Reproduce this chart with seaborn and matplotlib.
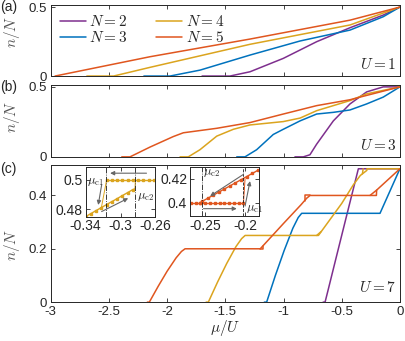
"""
Filling n/N vs chemical potential mu/U for N = 2..5 at U = 1, 3, 7,
with two insets zooming on the hysteresis loops at U = 7.
"""

import numpy as np
import pandas as pd
import matplotlib
matplotlib.use('Agg')
import matplotlib.pyplot as plt
import seaborn as sns

# ============================================
# Data
# ============================================
N_VALUES = [2, 3, 4, 5]
COLORS = ['#7E2F8E', '#0072BD', '#DBA41E', '#E0561F']

XTICKS = [-3, -2.5, -2, -1.5, -1, -0.5, 0]
XTICK_LABELS = ['-3', '-2.5', '-2', '-1.5', '-1', '-0.5', '0']

# --- U = 1 ---
U1_N2_mu = [-1.70, -1.46, -1.288, -1.002, -0.715, -0.429, -0.143, 0.0]
U1_N2_n = [0.0, 0.0, 0.031, 0.128, 0.249, 0.350, 0.442, 0.5]
U1_N3_mu = [-2.20, -1.975, -1.717, -1.288, -0.858, -0.429, -0.143, 0.0]
U1_N3_n = [0.0, 0.0, 0.043, 0.152, 0.254, 0.333, 0.430, 0.5]
U1_N4_mu = [-2.69, -2.46, -2.35, -2.147, -1.288, -0.429, 0.0]
U1_N4_n = [0.0, 0.0, 0.022, 0.063, 0.230, 0.370, 0.5]
U1_N5_mu = [-2.963, -2.147, -1.288, -0.429, 0.0]
U1_N5_n = [0.0, 0.140, 0.268, 0.405, 0.5]

# --- U = 3 ---
U3_N2_mu = [-0.902, -0.830, -0.773, -0.716, -0.572, -0.429, -0.286, -0.143, 0.0]
U3_N2_n = [0.0, 0.0, 0.015, 0.090, 0.257, 0.378, 0.464, 0.5, 0.5]
U3_N3_mu = [-1.402, -1.331, -1.231, -1.088, -1.002, -0.858, -0.715, -0.572,
            -0.429, -0.286, -0.143, 0.0]
U3_N3_n = [0.0, 0.0, 0.051, 0.160, 0.197, 0.257, 0.306, 0.318,
           0.335, 0.378, 0.427, 0.5]
U3_N4_mu = [-1.889, -1.818, -1.718, -1.574, -1.431, -1.288, -1.002, -0.858,
            -0.715, -0.429, -0.286, 0.0]
U3_N4_n = [0.0, 0.0, 0.051, 0.148, 0.197, 0.228, 0.252, 0.277,
           0.330, 0.402, 0.450, 0.5]
U3_N5_mu = [-2.390, -2.319, -2.147, -1.947, -1.861, -1.574, -1.288, -1.002,
            -0.715, -0.429, -0.286, 0.0]
U3_N5_n = [0.0, 0.0, 0.070, 0.145, 0.172, 0.204, 0.245, 0.306,
           0.366, 0.408, 0.439, 0.5]

# --- U = 7 (main sweep + short hysteresis branches) ---
U7_N2_mu = [-0.66, -0.643, -0.62, -0.55, -0.45, -0.357, 0.0]
U7_N2_n = [0.0, 0.0, 0.04, 0.163, 0.338, 0.5, 0.5]
U7_N3_mu = [-1.165, -1.145, -1.07, -0.995, -0.92, -0.874, -0.844, -0.171, 0.0]
U7_N3_n = [0.0, 0.0, 0.10, 0.193, 0.277, 0.317, 0.333, 0.333, 0.5]
U7_N4_mu = [-1.665, -1.646, -1.567, -1.488, -1.409, -1.36, -1.33, -0.70,
            -0.5, -0.4, -0.34, -0.284, -0.283, 0.0]
U7_N4_n = [0.0, 0.0, 0.075, 0.145, 0.208, 0.238, 0.25, 0.25,
           0.37, 0.44, 0.475, 0.494, 0.5, 0.5]
U7_N4_hyst_mu = [[-0.316, -0.322], [-0.676, -0.715]]
U7_N4_hyst_n = [[0.5, 0.481], [0.265, 0.25]]
U7_N5_mu = [-2.17, -2.153, -2.076, -2.0, -1.923, -1.877, -1.846, -1.20,
            -1.0, -0.85, -0.80, -0.772, -0.202, -0.2, 0.0]
U7_N5_n = [0.0, 0.0, 0.06, 0.116, 0.166, 0.19, 0.2, 0.2,
           0.295, 0.365, 0.39, 0.4, 0.4, 0.42, 0.5]
U7_N5_hyst_mu = [[-0.2, -0.254, -0.256], [-0.772, -0.815, -0.815],
                 [-1.20, -1.175, -1.175]]
U7_N5_hyst_n = [[0.42, 0.401, 0.4], [0.4, 0.4, 0.379], [0.2, 0.2, 0.212]]

# --- inset 1 : N = 4 near n/N = 0.5 ---
INS4_TOP_mu = [-0.256, -0.262, -0.268, -0.274, -0.280, -0.286, -0.292,
               -0.298, -0.304, -0.310, -0.316]
INS4_TOP_n = [0.5] * 11
INS4_JUMP_mu = [-0.316, -0.322]
INS4_JUMP_n = [0.5, 0.4811]
INS4_LOW_mu = [-0.346, -0.340, -0.334, -0.328, -0.322, -0.316, -0.310,
               -0.304, -0.298, -0.292, -0.286]
INS4_LOW_n = [0.4730, 0.4750, 0.4770, 0.4791, 0.4811, 0.4832, 0.4852,
              0.4872, 0.4893, 0.4913, 0.4934]
INS4_LINK_mu = [-0.286, -0.2835, -0.283]
INS4_LINK_n = [0.4934, 0.4942, 0.5]
INS4_MUC1, INS4_MUC2 = -0.317, -0.283

# --- inset 2 : N = 5 near n/N = 0.4 ---
INS5_LOW_mu = [-0.274, -0.268, -0.262, -0.256, -0.250, -0.244, -0.238,
               -0.232, -0.226, -0.220, -0.214, -0.208, -0.202]
INS5_LOW_n = [0.4] * 13
INS5_JUMP_mu = [-0.202, -0.2]
INS5_JUMP_n = [0.4, 0.42]
INS5_UP_mu = [-0.256, -0.254, -0.247, -0.240, -0.233, -0.226, -0.219,
              -0.212, -0.205, -0.198, -0.191, -0.184, -0.177]
INS5_UP_n = [0.4, 0.401, 0.4036, 0.4062, 0.4088, 0.4114, 0.4140,
             0.4166, 0.4192, 0.4218, 0.4244, 0.4270, 0.4296]
INS5_MUC1, INS5_MUC2 = -0.2025, -0.254


def label(N):
    return f'$N={N}$'


def branch_frame(branches):
    frames = []
    for k, (N, mu, n) in enumerate(branches):
        frames.append(pd.DataFrame({'mu': mu, 'n': n, 'N': label(N), 'seg': k}))
    return pd.concat(frames, ignore_index=True)


def style_axes(ax):
    ax.tick_params(direction='in', top=True, right=True, length=3, width=0.6,
                   labelsize=9.5, pad=3, colors='#262626')
    for s in ax.spines.values():
        s.set_color('#262626')
        s.set_linewidth(0.7)


# ============================================
# Figure
# ============================================
sns.set_theme(style='ticks')
plt.rcParams['font.family'] = ['Liberation Sans', 'DejaVu Sans']
plt.rcParams['mathtext.fontset'] = 'cm'
plt.rcParams['axes.unicode_minus'] = False

palette = dict(zip([label(N) for N in N_VALUES], COLORS))
hue_order = [label(N) for N in N_VALUES]

fig = plt.figure(figsize=(4.06, 3.41), dpi=100)
ax_a = fig.add_axes([0.125, 0.777, 0.860, 0.208])
ax_b = fig.add_axes([0.125, 0.540, 0.860, 0.211])
ax_c = fig.add_axes([0.125, 0.114, 0.860, 0.402])

panels = [
    (ax_a, branch_frame([(2, U1_N2_mu, U1_N2_n), (3, U1_N3_mu, U1_N3_n),
                         (4, U1_N4_mu, U1_N4_n), (5, U1_N5_mu, U1_N5_n)]),
     '$U=1$', 0.62),
    (ax_b, branch_frame([(2, U3_N2_mu, U3_N2_n), (3, U3_N3_mu, U3_N3_n),
                         (4, U3_N4_mu, U3_N4_n), (5, U3_N5_mu, U3_N5_n)]),
     '$U=3$', 0.55),
    (ax_c, branch_frame([(2, U7_N2_mu, U7_N2_n), (3, U7_N3_mu, U7_N3_n),
                         (4, U7_N4_mu, U7_N4_n),
                         *[(4, m, n) for m, n in zip(U7_N4_hyst_mu, U7_N4_hyst_n)],
                         (5, U7_N5_mu, U7_N5_n),
                         *[(5, m, n) for m, n in zip(U7_N5_hyst_mu, U7_N5_hyst_n)]]),
     '$U=7$', 0.42),
]

for ax, df, utext, ylab_y in panels:
    sns.lineplot(data=df, x='mu', y='n', hue='N', hue_order=hue_order,
                 palette=palette, units='seg', estimator=None, sort=False,
                 lw=1.1, ax=ax, legend=(ax is ax_a))
    ax.set_xlim(-3, 0)
    ax.set_ylim(0, 0.514)
    ax.set_xticks(XTICKS)
    ax.set_xticklabels(XTICK_LABELS)
    ax.set_xlabel('')
    ax.set_ylabel('$n/N$', fontsize=11, color='#555555')
    ax.yaxis.set_label_coords(-0.082, ylab_y)
    ax.text(0.99, 0.05, utext, transform=ax.transAxes, ha='right', va='bottom',
            fontsize=11, color='#262626')
    style_axes(ax)

for ax in (ax_a, ax_b):
    ax.set_yticks([0, 0.5])
    ax.set_yticklabels(['0', '0.5'])
    ax.tick_params(labelbottom=False)
ax_c.set_yticks([0, 0.2, 0.4])
ax_c.set_yticklabels(['0', '0.2', '0.4'])
ax_c.set_xlabel('$\\mu/U$', fontsize=11, labelpad=0, color='#262626')

sns.move_legend(ax_a, 'upper left', ncol=2, frameon=False, title=None,
                fontsize=11, handlelength=1.7, handletextpad=0.2,
                columnspacing=1.9, labelspacing=0.05, borderaxespad=0.2)

for txt, ypix in [('(a)', 7), ('(b)', 87), ('(c)', 169)]:
    fig.text(0.0, 1 - ypix / 341, txt, fontsize=10, ha='left', va='center',
             color='#262626')

# ============================================
# Insets
# ============================================
arrow_kw = dict(arrowstyle='-|>', color='#666666', lw=0.8, mutation_scale=6,
                shrinkA=0, shrinkB=0)
gold, orange = COLORS[2], COLORS[3]

ins1 = fig.add_axes([0.211, 0.365, 0.172, 0.146])
ins1.plot(INS4_TOP_mu, INS4_TOP_n, color=gold, lw=1.0, marker='s', ms=2)
ins1.plot(INS4_JUMP_mu, INS4_JUMP_n, color=gold, lw=0.7)
ins1.plot(INS4_LOW_mu, INS4_LOW_n, color=gold, lw=1.0, marker='s', ms=2)
ins1.plot(INS4_LINK_mu, INS4_LINK_n, color=gold, lw=0.7)
ins1.axvline(INS4_MUC1, color='k', lw=0.6, ls='-.')
ins1.axvline(INS4_MUC2, color='k', lw=0.6, ls='-.')
ins1.annotate('', xy=(-0.312, 0.5046), xytext=(-0.2703, 0.5046), arrowprops=arrow_kw)
ins1.annotate('', xy=(-0.3256, 0.4829), xytext=(-0.3217, 0.4966), arrowprops=arrow_kw)
ins1.annotate('', xy=(-0.2913, 0.4875), xytext=(-0.3217, 0.4784), arrowprops=arrow_kw)
ins1.text(-0.3185, 0.4985, '$\\mu_{\\mathrm{c1}}$', fontsize=9, ha='right', va='center')
ins1.text(-0.2815, 0.4885, '$\\mu_{\\mathrm{c2}}$', fontsize=9, ha='left', va='center')
ins1.set_xlim(-0.34, -0.26)
ins1.set_ylim(0.475, 0.509)
ins1.set_xticks([-0.34, -0.3, -0.26])
ins1.set_xticklabels(['-0.34', '-0.3', '-0.26'])
ins1.set_yticks([0.48, 0.5])
ins1.set_yticklabels(['0.48', '0.5'])

ins2 = fig.add_axes([0.468, 0.367, 0.170, 0.144])
ins2.plot(INS5_LOW_mu, INS5_LOW_n, color=orange, lw=1.0, marker='s', ms=2)
ins2.plot(INS5_JUMP_mu, INS5_JUMP_n, color=orange, lw=0.7)
ins2.plot(INS5_UP_mu, INS5_UP_n, color=orange, lw=1.0, marker='s', ms=2)
ins2.axvline(INS5_MUC2, color='k', lw=0.6, ls='-.')
ins2.axvline(INS5_MUC1, color='k', lw=0.6, ls='--')
ins2.annotate('', xy=(-0.2438, 0.4055), xytext=(-0.2021, 0.4236), arrowprops=arrow_kw)
ins2.annotate('', xy=(-0.2104, 0.395), xytext=(-0.2521, 0.395), arrowprops=arrow_kw)
ins2.annotate('', xy=(-0.1938, 0.418), xytext=(-0.2, 0.3972), arrowprops=arrow_kw)
ins2.text(-0.2525, 0.4245, '$\\mu_{\\mathrm{c2}}$', fontsize=9, ha='left', va='center')
ins2.text(-0.1990, 0.3945, '$\\mu_{\\mathrm{c1}}$', fontsize=9, ha='left', va='center')
ins2.set_xlim(-0.269, -0.1825)
ins2.set_ylim(0.389, 0.43)
ins2.set_xticks([-0.25, -0.2])
ins2.set_xticklabels(['-0.25', '-0.2'])
ins2.set_yticks([0.4, 0.42])
ins2.set_yticklabels(['0.4', '0.42'])

for ins in (ins1, ins2):
    ins.set_facecolor('white')
    style_axes(ins)
    ins.tick_params(labelsize=10, pad=2)

fig.savefig('out.png', dpi=100)
